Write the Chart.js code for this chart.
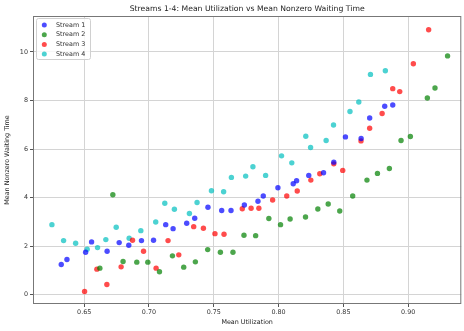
<!DOCTYPE html>
<html><head><meta charset="utf-8">
<script src="https://cdn.jsdelivr.net/npm/chart.js@4/dist/chart.umd.min.js"></script>
<style>html,body{margin:0;padding:0;background:#fff}#wrap{width:464px;height:331px}</style>
</head><body><div id="wrap"><canvas id="c" width="464" height="331"></canvas></div>
<script>
const chartTitle = "Streams 1-4: Mean Utilization vs Mean Nonzero Waiting Time";
const xLabel = "Mean Utilization";
const yLabel = "Mean Nonzero Waiting Time";
const seriesNames = ["Stream 1", "Stream 2", "Stream 3", "Stream 4"];
const xTicks = [0.65, 0.70, 0.75, 0.80, 0.85, 0.90];
const yTicks = [0, 2, 4, 6, 8, 10];

const s1x = [0.6323,0.6367,0.6511,0.6557,0.6677,0.6770,0.6844,0.6942,0.7035,0.7129,0.7186,0.7291,0.7353,0.7455,0.7561,0.7633,0.7736,0.7841,0.7882,0.7995,0.8113,0.8139,0.8233,0.8347,0.8426,0.8516,0.8637,0.8703,0.8819,0.8881];
const s1y = [1.244,1.450,1.754,2.177,1.795,2.148,2.041,2.230,2.246,2.887,2.723,2.945,3.150,3.602,3.470,3.470,3.696,3.852,4.066,4.407,4.571,4.694,4.916,5.023,5.462,6.501,6.435,7.281,7.762,7.815];

const s2x = [0.6621,0.6721,0.6800,0.6906,0.6991,0.7081,0.7181,0.7268,0.7358,0.7453,0.7551,0.7648,0.7733,0.7823,0.7925,0.8015,0.8089,0.8208,0.8303,0.8383,0.8472,0.8572,0.8682,0.8763,0.8855,0.8945,0.9017,0.9148,0.9207,0.9304];
const s2y = [1.097,4.119,1.368,1.343,1.343,0.945,1.602,1.138,1.355,1.860,1.754,1.754,2.452,2.435,3.142,2.887,3.121,3.203,3.532,3.737,3.450,4.066,4.723,4.998,5.203,6.353,6.517,8.103,8.513,9.836];

const s3x = [0.6503,0.6598,0.6675,0.6785,0.6873,0.6958,0.7055,0.7147,0.7230,0.7345,0.7420,0.7509,0.7579,0.7720,0.7788,0.7848,0.7954,0.8063,0.8144,0.8249,0.8318,0.8426,0.8495,0.8636,0.8703,0.8799,0.8881,0.8935,0.9040,0.9158];
const s3y = [0.136,1.055,0.423,1.150,2.246,1.795,1.097,2.230,1.643,2.805,2.739,2.517,2.493,3.544,3.561,3.561,3.901,4.066,4.271,4.723,4.982,5.392,5.121,6.337,6.858,7.462,8.489,8.366,9.515,10.912];

const s4x = [0.6251,0.6341,0.6434,0.6523,0.6603,0.6667,0.6747,0.6847,0.6937,0.7052,0.7122,0.7196,0.7312,0.7371,0.7482,0.7576,0.7636,0.7746,0.7802,0.7900,0.8023,0.8102,0.8210,0.8247,0.8367,0.8424,0.8551,0.8619,0.8709,0.8824];
const s4y = [2.887,2.230,2.123,1.877,1.943,2.271,2.780,2.329,2.641,2.998,3.766,3.524,3.347,3.799,4.283,4.242,4.834,4.887,5.269,4.916,5.721,5.433,6.530,6.066,6.353,6.994,7.548,7.938,9.076,9.228];

const colors = ["rgba(0,0,255,0.7)", "rgba(0,128,0,0.7)", "rgba(255,0,0,0.7)", "rgba(0,191,191,0.7)"];
const xs = [s1x, s2x, s3x, s4x];
const ys = [s1y, s2y, s3y, s4y];

const FONT = "'DejaVu Sans', sans-serif";

const datasets = seriesNames.map((name, i) => ({
  label: name,
  data: xs[i].map((x, j) => ({x: x, y: ys[i][j]})),
  backgroundColor: colors[i],
  borderColor: colors[i],
  borderWidth: 0,
  pointRadius: 2.7,
  pointHoverRadius: 2.7
}));

const framePlugin = {
  id: 'frame',
  afterDraw(chart) {
    const {ctx, chartArea: a} = chart;
    ctx.save();
    ctx.strokeStyle = '#777';
    ctx.lineWidth = 1;
    ctx.strokeRect(a.left + 0.5, a.top + 0.5, a.right - a.left - 1, a.bottom - a.top - 1);
    ctx.fillStyle = '#222';
    ctx.font = "7.7px " + FONT;
    ctx.textAlign = 'center';
    ctx.textBaseline = 'middle';
    ctx.fillText(chartTitle, (a.left + a.right) / 2, 9);
    const lx = 36, ly = 18, lw = 54, lh = 41;
    ctx.fillStyle = 'rgba(255,255,255,0.8)';
    ctx.strokeStyle = '#d0d0d0';
    ctx.lineWidth = 1;
    ctx.beginPath();
    ctx.roundRect(lx + 0.5, ly + 0.5, lw, lh, 2);
    ctx.fill();
    ctx.stroke();
    ctx.font = "6.4px " + FONT;
    ctx.textAlign = 'left';
    chart.data.datasets.forEach((ds, i) => {
      const yy = 25 + i * 9.7;
      ctx.fillStyle = ds.backgroundColor;
      ctx.beginPath();
      ctx.arc(44.3, yy, 2.5, 0, Math.PI * 2);
      ctx.fill();
      ctx.fillStyle = '#333';
      ctx.fillText(ds.label, 56, yy);
    });
    ctx.restore();
  }
};

new Chart(document.getElementById('c'), {
  type: 'scatter',
  data: { datasets },
  options: {
    responsive: false,
    animation: false,
    devicePixelRatio: 1,
    layout: { padding: { top: 16, right: 1, left: 0, bottom: 0 } },
    plugins: { legend: { display: false }, title: { display: false }, tooltip: { enabled: false } },
    scales: {
      x: {
        type: 'linear',
        min: 0.6105, max: 0.941,
        afterBuildTicks: s => { s.ticks = xTicks.map(v => ({value: v})); },
        afterFit: s => { s.height = 27; },
        border: { display: false },
        grid: { color: '#d4d4d4', lineWidth: 1, tickColor: '#555', tickLength: 3 },
        ticks: { color: '#333', font: { family: FONT, size: 6.4 }, padding: 2, maxRotation: 0, callback: v => Number(v).toFixed(2) },
        title: { display: true, text: xLabel, color: '#222', font: { family: FONT, size: 6.4 }, padding: { top: 1, bottom: 5 } }
      },
      y: {
        type: 'linear',
        min: -0.38, max: 11.48,
        afterBuildTicks: s => { s.ticks = yTicks.map(v => ({value: v})); },
        afterFit: s => { s.width = 33; },
        border: { display: false },
        grid: { color: '#d4d4d4', lineWidth: 1, tickColor: '#555', tickLength: 3 },
        ticks: { color: '#333', font: { family: FONT, size: 6.4 }, padding: 2, callback: v => String(v) },
        title: { display: true, text: yLabel, color: '#222', font: { family: FONT, size: 6.4 }, padding: { top: 4, bottom: 1 } }
      }
    }
  },
  plugins: [framePlugin]
});
</script>
</body></html>
